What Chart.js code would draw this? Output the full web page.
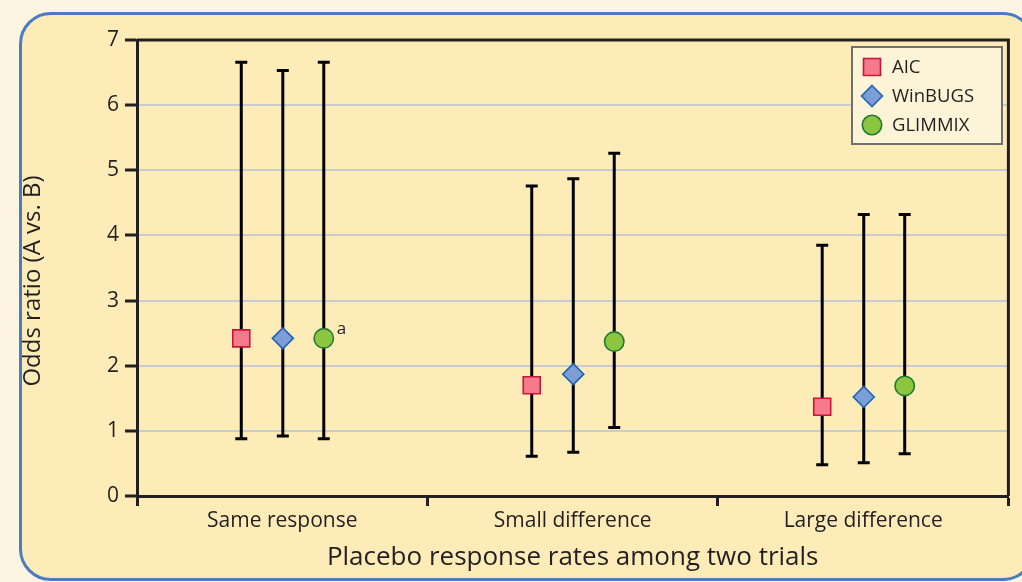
<!DOCTYPE html>
<html>
<head>
<meta charset="utf-8">
<script src="https://cdn.jsdelivr.net/npm/chart.js@4"></script>
<style>
  html, body { margin: 0; padding: 0; width: 1022px; height: 582px; overflow: hidden; background: #fdf5e2; }
  #panel { position: absolute; left: 19px; top: 12px; width: 1010px; height: 563px;
           border: 3px solid #4a7cc4; border-radius: 32px; background: #fdecb8; }
  #wrap { position: absolute; left: 0; top: 0; width: 1022px; height: 582px; }
</style>
</head>
<body>
<div id="panel"></div>
<div id="wrap"><canvas id="chart" width="1022" height="582"></canvas></div>
<script>
// categories and methods
const categories = ['Same response', 'Small difference', 'Large difference'];
const methods = ['AIC', 'WinBUGS', 'GLIMMIX'];
const yTicks = [0, 1, 2, 3, 4, 5, 6, 7];

// odds ratio point estimates with lower / upper limits, one per category
const aicOR = [2.42, 1.70, 1.37];
const aicLow = [0.88, 0.61, 0.48];
const aicHigh = [6.66, 4.76, 3.85];

const winbugsOR = [2.42, 1.87, 1.52];
const winbugsLow = [0.92, 0.67, 0.51];
const winbugsHigh = [6.53, 4.87, 4.32];

const glimmixOR = [2.42, 2.37, 1.69];
const glimmixLow = [0.88, 1.05, 0.65];
const glimmixHigh = [6.66, 5.26, 4.32];

const INK = '#231f20';
Chart.defaults.font.family = "'Open Sans', sans-serif";
Chart.defaults.color = INK;

// side-by-side spread inside each category
const spread = [-0.141, 0.002, 0.143];

function points(vals, k) {
  return vals.map((v, i) => ({ x: i + spread[k], y: v }));
}

function drawMarker(ctx, style, x, y, r) {
  ctx.beginPath();
  if (style === 'rect') {
    const s = r * Math.SQRT1_2;
    ctx.rect(x - s, y - s, 2 * s, 2 * s);
  } else if (style === 'rectRot') {
    ctx.moveTo(x, y - r); ctx.lineTo(x + r, y); ctx.lineTo(x, y + r); ctx.lineTo(x - r, y); ctx.closePath();
  } else {
    ctx.arc(x, y, r, 0, Math.PI * 2);
  }
  ctx.fill();
  ctx.stroke();
}

const errorBars = {
  id: 'errorBars',
  beforeDatasetsDraw(chart) {
    const ctx = chart.ctx, ys = chart.scales.y, area = chart.chartArea;
    ctx.save();
    // top and right frame
    ctx.strokeStyle = INK;
    ctx.lineWidth = 3;
    ctx.beginPath();
    ctx.moveTo(area.left, area.top);
    ctx.lineTo(area.right, area.top);
    ctx.lineTo(area.right, area.bottom);
    ctx.stroke();
    // whiskers
    ctx.strokeStyle = '#000';
    chart.data.datasets.forEach((ds, di) => {
      chart.getDatasetMeta(di).data.forEach((pt, i) => {
        const x = pt.x;
        const top = ys.getPixelForValue(ds.high[i]);
        const bot = ys.getPixelForValue(ds.low[i]);
        ctx.beginPath();
        ctx.moveTo(x, top); ctx.lineTo(x, bot);
        ctx.moveTo(x - 6, top); ctx.lineTo(x + 6, top);
        ctx.moveTo(x - 6, bot); ctx.lineTo(x + 6, bot);
        ctx.stroke();
      });
    });
    ctx.restore();
  },
  afterDraw(chart) {
    const ctx = chart.ctx;
    ctx.save();
    // y axis title
    ctx.fillStyle = INK;
    ctx.font = "24px 'Open Sans', sans-serif";
    ctx.textAlign = 'center';
    ctx.textBaseline = 'middle';
    ctx.translate(33, 281);
    ctx.rotate(-Math.PI / 2);
    ctx.fillText('Odds ratio (A vs. B)', 0, 0);
    ctx.restore();

    // footnote mark on GLIMMIX, same response
    const p = chart.getDatasetMeta(2).data[0];
    ctx.save();
    ctx.fillStyle = INK;
    ctx.font = "17px 'Open Sans', sans-serif";
    ctx.textBaseline = 'middle';
    ctx.fillText('a', p.x + 13, p.y - 9);
    ctx.restore();

    // legend box
    ctx.save();
    ctx.fillStyle = '#fdf3d6';
    ctx.strokeStyle = '#707070';
    ctx.lineWidth = 2;
    ctx.fillRect(852, 47, 150, 97);
    ctx.strokeRect(852, 47, 150, 97);
    ctx.font = "18.5px 'Open Sans', sans-serif";
    ctx.textBaseline = 'middle';
    chart.data.datasets.forEach((ds, i) => {
      const y = 67 + i * 29;
      ctx.fillStyle = ds.backgroundColor;
      ctx.strokeStyle = ds.borderColor;
      ctx.lineWidth = ds.borderWidth;
      drawMarker(ctx, ds.pointStyle, 872, y, ds.pointRadius);
      ctx.fillStyle = INK;
      ctx.fillText(ds.label, 892, y + 1);
    });
    ctx.restore();
  }
};

function dataset(k, vals, low, high, style, radius, fill, line) {
  return {
    label: methods[k],
    data: points(vals, k),
    low: low,
    high: high,
    xAxisID: 'xv',
    pointStyle: style,
    pointRadius: radius,
    pointHoverRadius: radius,
    backgroundColor: fill,
    borderColor: line,
    borderWidth: 1.6,
    showLine: false
  };
}

new Chart(document.getElementById('chart'), {
  type: 'scatter',
  data: {
    labels: categories,
    datasets: [
      dataset(0, aicOR, aicLow, aicHigh, 'rect', 12, '#f47a8c', '#c8163a'),
      dataset(1, winbugsOR, winbugsLow, winbugsHigh, 'rectRot', 10.5, '#7b9ed6', '#1f63b5'),
      dataset(2, glimmixOR, glimmixLow, glimmixHigh, 'circle', 9.7, '#8cc63f', '#207a37')
    ]
  },
  options: {
    responsive: false,
    animation: false,
    layout: { padding: { top: 40, right: 11, left: 0, bottom: 0 } },
    plugins: { legend: { display: false }, tooltip: { enabled: false } },
    scales: {
      x: {
        type: 'category',
        labels: categories,
        offset: true,
        afterFit: s => { s.height = 86; },
        grid: { offset: true, drawOnChartArea: false, tickLength: 10, tickWidth: 3, tickColor: INK },
        border: { color: INK, width: 3 },
        ticks: { font: { size: 21 }, color: INK, padding: 2 },
        title: { display: true, text: 'Placebo response rates among two trials', font: { size: 26 }, color: INK, padding: { bottom: 9 } }
      },
      xv: {
        type: 'linear',
        min: -0.5,
        max: 2.5,
        display: false
      },
      y: {
        min: yTicks[0],
        max: yTicks[yTicks.length - 1],
        afterFit: s => { s.width = 137; },
        afterBuildTicks: s => { s.ticks = yTicks.map(v => ({ value: v })); },
        grid: { color: '#c8cbd0', lineWidth: 2, tickLength: 12, tickWidth: 3, tickColor: INK },
        border: { color: INK, width: 3 },
        ticks: { font: { size: 21 }, color: INK, padding: 6 }
      }
    }
  },
  plugins: [errorBars]
});
</script>
</body>
</html>
